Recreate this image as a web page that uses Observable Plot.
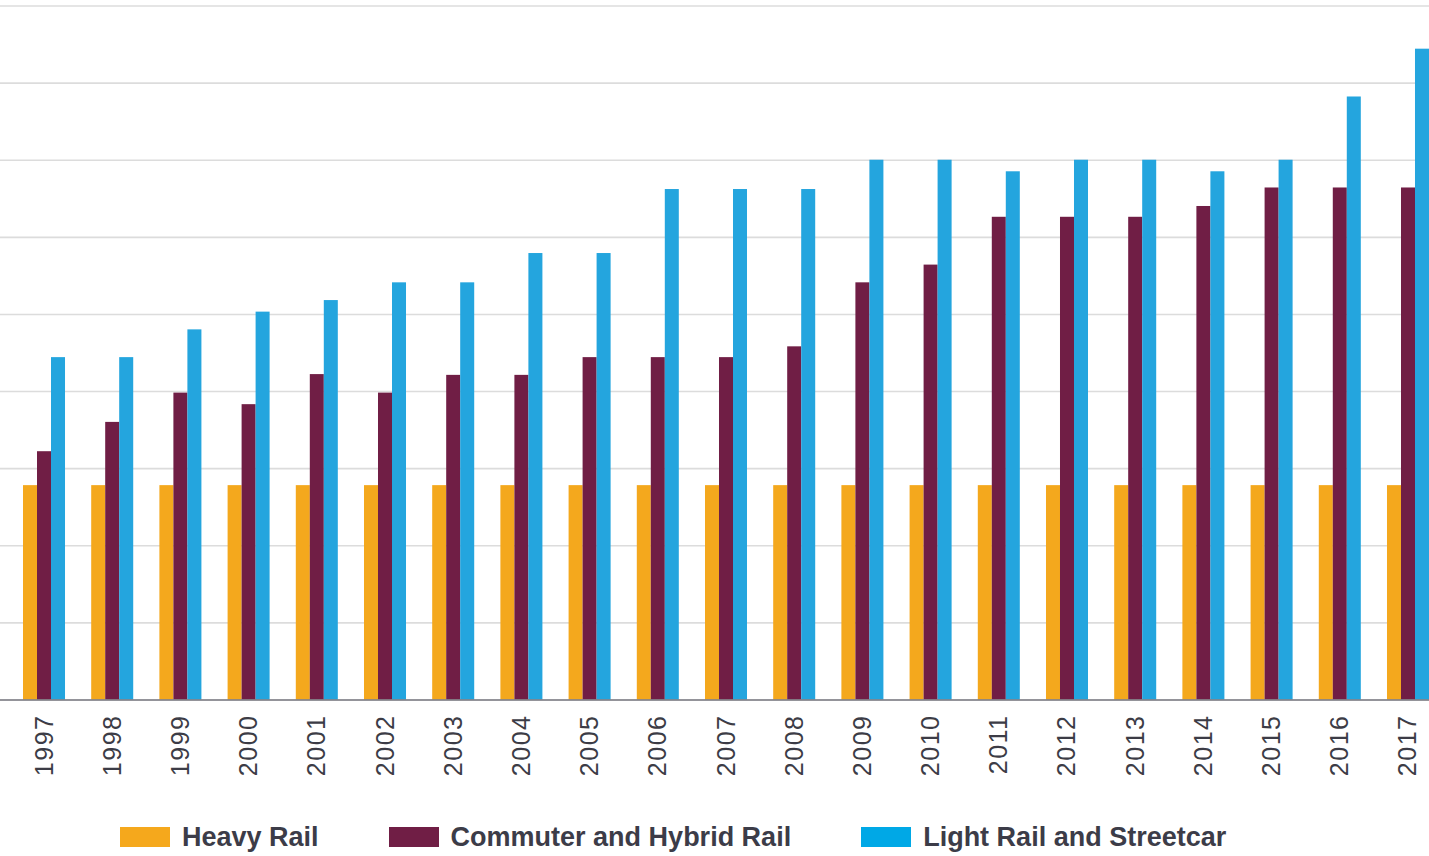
<!DOCTYPE html>
<html>
<head>
<meta charset="utf-8">
<script src="https://cdn.jsdelivr.net/npm/d3@7"></script>
<script src="https://cdn.jsdelivr.net/npm/@observablehq/plot@0.6"></script>
<style>
  html, body { margin: 0; padding: 0; background: #fff; }
  body { width: 1429px; height: 856px; overflow: hidden; font-family: "Liberation Sans", Arial, sans-serif; }
  #chart svg { display: block; }
  #chart svg g[aria-label="x-axis tick label"] text { letter-spacing: 1.5px; }
  .legend { display: flex; align-items: center; height: 20px; margin-left: 120px; }
  .legend .item { display: flex; align-items: center; margin-right: 70px; }
  .legend .sw { width: 50px; height: 20px; margin-right: 12px; }
  .legend .lbl { font-size: 27px; font-weight: bold; color: #3c3c48; white-space: nowrap; line-height: 20px; }
</style>
</head>
<body>
<div id="chart"></div>
<div class="legend" id="legend"></div>
<script>
// Years shown along the x axis
const years = ["1997","1998","1999","2000","2001","2002","2003","2004","2005","2006","2007",
               "2008","2009","2010","2011","2012","2013","2014","2015","2016","2017"];

// Series values per year
const heavyRail = [13.9,13.9,13.9,13.9,13.9,13.9,13.9,13.9,13.9,13.9,13.9,
                   13.9,13.9,13.9,13.9,13.9,13.9,13.9,13.9,13.9,13.9];
const commuterRail = [16.1,18.0,19.9,19.15,21.1,19.9,21.05,21.05,22.2,22.2,22.2,
                      22.9,27.05,28.2,31.3,31.3,31.3,32.0,33.2,33.2,33.2];
const lightRail = [22.2,22.2,24.0,25.15,25.9,27.05,27.05,28.95,28.95,33.1,33.1,
                   33.1,35.0,35.0,34.25,35.0,35.0,34.25,35.0,39.1,42.2];

const seriesNames = ["Heavy Rail", "Commuter and Hybrid Rail", "Light Rail and Streetcar"];
const barColors = ["#f4a81d", "#701e45", "#24a5de"];
const swatchColors = ["#f5a81c", "#701e45", "#00a8e6"];

// Gridline values
const gridTicks = [5,10,15,20,25,30,35,40,45];

const heavyRows = years.map((y, i) => ({year: y, value: heavyRail[i]}));
const commuterRows = years.map((y, i) => ({year: y, value: commuterRail[i]}));
const lightRows = years.map((y, i) => ({year: y, value: lightRail[i]}));

const chart = Plot.plot({
  width: 1429,
  height: 827,
  marginLeft: 0,
  marginRight: 0,
  marginTop: 5,
  marginBottom: 127,
  style: {fontFamily: "'Liberation Sans', Arial, sans-serif", background: "#fff"},
  x: {domain: years, range: [23, 1429], paddingInner: 0.384, paddingOuter: 0, round: false, axis: null},
  y: {domain: [0, 45], range: [699.5, 5.5], axis: null},
  marks: [
    Plot.ruleY(gridTicks, {stroke: "#dcdcdc", strokeWidth: 1.6}),
    // three bars per year band, side by side
    Plot.barY(heavyRows, {x: "year", y: "value", fill: barColors[0], insetRight: 28}),
    Plot.barY(commuterRows, {x: "year", y: "value", fill: barColors[1], insetLeft: 14, insetRight: 14}),
    Plot.barY(lightRows, {x: "year", y: "value", fill: barColors[2], insetLeft: 28}),
    Plot.ruleY([0], {stroke: "#707078", strokeWidth: 1.6}),
    Plot.axisX({
      tickSize: 0,
      tickPadding: 14,
      tickRotate: -90,
      fontSize: 25,
      fill: "#3c3c46",
      label: null
    })
  ]
});
document.getElementById("chart").appendChild(chart);

// Legend below the chart
const legend = document.getElementById("legend");
seriesNames.forEach((name, i) => {
  const item = document.createElement("div");
  item.className = "item";
  const sw = document.createElement("span");
  sw.className = "sw";
  sw.style.background = swatchColors[i];
  const lbl = document.createElement("span");
  lbl.className = "lbl";
  lbl.textContent = name;
  item.appendChild(sw);
  item.appendChild(lbl);
  legend.appendChild(item);
});
</script>
</body>
</html>
